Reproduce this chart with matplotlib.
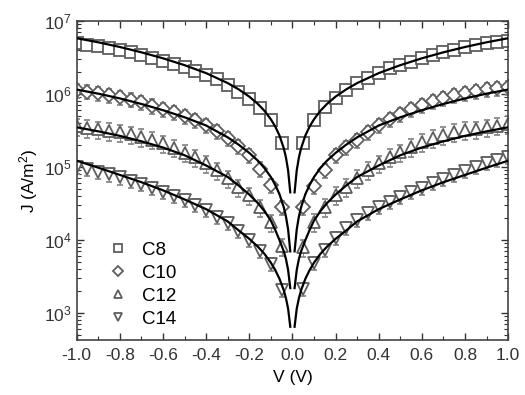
import numpy as np
import matplotlib
matplotlib.use("Agg")
import matplotlib.pyplot as plt

plt.rcParams['font.family'] = ['Liberation Sans', 'DejaVu Sans']
plt.rcParams['mathtext.fontset'] = 'custom'
plt.rcParams['mathtext.rm'] = 'Liberation Sans'
plt.rcParams['mathtext.it'] = 'Liberation Sans:italic'

# measured points: bias from -1.0 to -0.05 and 0.05 to 1.0 (step 0.05)
V_NEG = [-1.00, -0.95, -0.90, -0.85, -0.80, -0.75, -0.70, -0.65, -0.60, -0.55,
         -0.50, -0.45, -0.40, -0.35, -0.30, -0.25, -0.20, -0.15, -0.10, -0.05]
V_POS = [0.05, 0.10, 0.15, 0.20, 0.25, 0.30, 0.35, 0.40, 0.45, 0.50,
         0.55, 0.60, 0.65, 0.70, 0.75, 0.80, 0.85, 0.90, 0.95, 1.00]

LABELS = ['C8', 'C10', 'C12', 'C14']
MARKERS = ['s', 'D', '^', 'v']

C8_NEG = [4.95e6, 4.75e6, 4.50e6, 4.25e6, 4.00e6, 3.70e6, 3.40e6, 3.12e6, 2.85e6, 2.58e6,
          2.33e6, 2.08e6, 1.84e6, 1.58e6, 1.34e6, 1.08e6, 8.5e5, 6.5e5, 4.35e5, 2.1e5]
C8_POS = [2.13e5, 4.41e5, 6.64e5, 8.8e5, 1.13e6, 1.42e6, 1.66e6, 1.94e6, 2.27e6, 2.50e6,
          2.74e6, 3.11e6, 3.42e6, 3.76e6, 4.01e6, 4.40e6, 4.69e6, 5.00e6, 5.16e6, 5.32e6]

C10_NEG = [1.13e6, 1.08e6, 1.03e6, 9.7e5, 9.1e5, 8.4e5, 7.7e5, 6.9e5, 6.2e5, 5.6e5,
           5.0e5, 4.4e5, 3.75e5, 3.1e5, 2.5e5, 1.95e5, 1.45e5, 9.5e4, 5.6e4, 2.85e4]
C10_POS = [2.83e4, 5.5e4, 9.1e4, 1.46e5, 1.88e5, 2.35e5, 3.02e5, 3.76e5, 4.55e5, 5.33e5,
           6.23e5, 7.07e5, 8.0e5, 8.8e5, 9.7e5, 1.03e6, 1.10e6, 1.17e6, 1.21e6, 1.25e6]

C12_NEG = [3.6e5, 3.45e5, 3.3e5, 3.15e5, 3.0e5, 2.8e5, 2.6e5, 2.38e5, 2.12e5, 1.85e5,
           1.58e5, 1.35e5, 1.12e5, 9.0e4, 7.0e4, 5.3e4, 4.1e4, 2.8e4, 1.75e4, 8.2e3]
C12_POS = [8.0e3, 1.77e4, 2.83e4, 4.13e4, 5.32e4, 7.07e4, 9.1e4, 1.13e5, 1.37e5, 1.60e5,
           1.88e5, 2.20e5, 2.49e5, 2.74e5, 3.01e5, 3.21e5, 3.3e5, 3.5e5, 3.7e5, 3.9e5]

C14_NEG = [1.0e5, 9.3e4, 8.6e4, 7.9e4, 7.2e4, 6.5e4, 5.8e4, 5.2e4, 4.6e4, 4.0e4,
           3.5e4, 3.0e4, 2.55e4, 2.1e4, 1.7e4, 1.35e4, 1.0e4, 7.0e3, 4.7e3, 2.1e3]
C14_POS = [2.13e3, 4.84e3, 7.30e3, 1.06e4, 1.46e4, 1.88e4, 2.34e4, 2.83e4, 3.32e4, 3.88e4,
           4.55e4, 5.16e4, 6.04e4, 6.85e4, 7.77e4, 8.82e4, 1.00e5, 1.13e5, 1.25e5, 1.37e5]

# relative error of each data set
REL_ERR = [0.08, 0.22, 0.27, 0.2]

# fitted curves, |V| grid (symmetric in bias)
FIT_V = [0.01, 0.02, 0.03, 0.04, 0.06, 0.08, 0.10, 0.13, 0.16, 0.20,
         0.25, 0.30, 0.40, 0.50, 0.60, 0.70, 0.80, 0.90, 1.00]
C8_FIT = [4.5e4, 9.0e4, 1.35e5, 1.8e5, 2.7e5, 3.6e5, 4.5e5, 5.9e5, 7.3e5, 9.2e5,
          1.16e6, 1.41e6, 1.93e6, 2.48e6, 3.08e6, 3.72e6, 4.4e6, 5.1e6, 5.8e6]
C10_FIT = [7.0e3, 1.4e4, 2.1e4, 2.8e4, 4.25e4, 5.7e4, 7.3e4, 9.7e4, 1.22e5, 1.56e5,
           2.03e5, 2.55e5, 3.7e5, 4.8e5, 6.0e5, 7.3e5, 8.7e5, 1.01e6, 1.15e6]
C12_FIT = [2.2e3, 3.9e3, 5.5e3, 7.0e3, 1.0e4, 1.38e4, 1.85e4, 2.5e4, 3.2e4, 4.2e4,
           5.6e4, 7.3e4, 1.05e5, 1.45e5, 1.85e5, 2.25e5, 2.67e5, 3.08e5, 3.5e5]
C14_FIT = [6.5e2, 1.15e3, 1.6e3, 2.05e3, 2.95e3, 3.9e3, 4.9e3, 6.5e3, 8.1e3, 1.04e4,
           1.36e4, 1.8e4, 2.65e4, 3.6e4, 4.8e4, 6.2e4, 7.8e4, 9.8e4, 1.22e5]

data_neg = [C8_NEG, C10_NEG, C12_NEG, C14_NEG]
data_pos = [C8_POS, C10_POS, C12_POS, C14_POS]
fits = [C8_FIT, C10_FIT, C12_FIT, C14_FIT]

fig = plt.figure(figsize=(5.25, 3.95), dpi=100)
ax = fig.add_axes([0.146, 0.139, 0.822, 0.808])

v_all = np.array(V_NEG + V_POS)
fit_v = np.array(FIT_V)
grey = '#5e5e5e'

for i in range(4):
    j = np.array(data_neg[i] + data_pos[i])
    ms = 7.2 if MARKERS[i] == 'D' else 8.5
    ax.errorbar(v_all, j, yerr=j * REL_ERR[i], fmt=MARKERS[i], ms=ms,
                mfc='white', mec=grey, mew=1.3, ecolor='#8a8a8a', elinewidth=0.8, capsize=2.5,
                capthick=0.9, label=LABELS[i], zorder=2)
    f = np.array(fits[i])
    ax.plot(fit_v, f, color='black', lw=1.6, zorder=3)
    ax.plot(-fit_v, f, color='black', lw=1.6, zorder=3)

ax.set_yscale('log')
ax.set_xlim(-1.0, 1.0)
ax.set_ylim(4.27e2, 1e7)
ax.set_xticks(np.arange(-1.0, 1.01, 0.2))
ax.set_xticks(np.arange(-0.9, 0.91, 0.2), minor=True)
ax.xaxis.set_major_formatter(matplotlib.ticker.FuncFormatter(lambda x, p: '%.1f' % x if abs(x) > 1e-9 else '0.0'))

ax.tick_params(which='both', direction='in', top=True, right=True, labelsize=12.5, colors='#333333')
ax.tick_params(which='major', length=5, width=1.0)
ax.tick_params(which='minor', length=3, width=0.8)
ax.tick_params(axis='x', pad=6)
for s in ax.spines.values():
    s.set_linewidth(1.2)
    s.set_color('#444444')

ax.set_xlabel('V (V)', fontsize=12.5, labelpad=5)
ax.set_ylabel('J (A/m$^2$)', fontsize=12.5, labelpad=3)

handles, labels = ax.get_legend_handles_labels()
handles = [h[0] for h in handles]
ax.legend(handles, labels, loc='lower left', bbox_to_anchor=(0.035, -0.015), frameon=False,
          fontsize=13.5, markerscale=0.75, handlelength=1.0, handletextpad=0.8, labelspacing=0.32)

fig.savefig('out.png', dpi=100)
